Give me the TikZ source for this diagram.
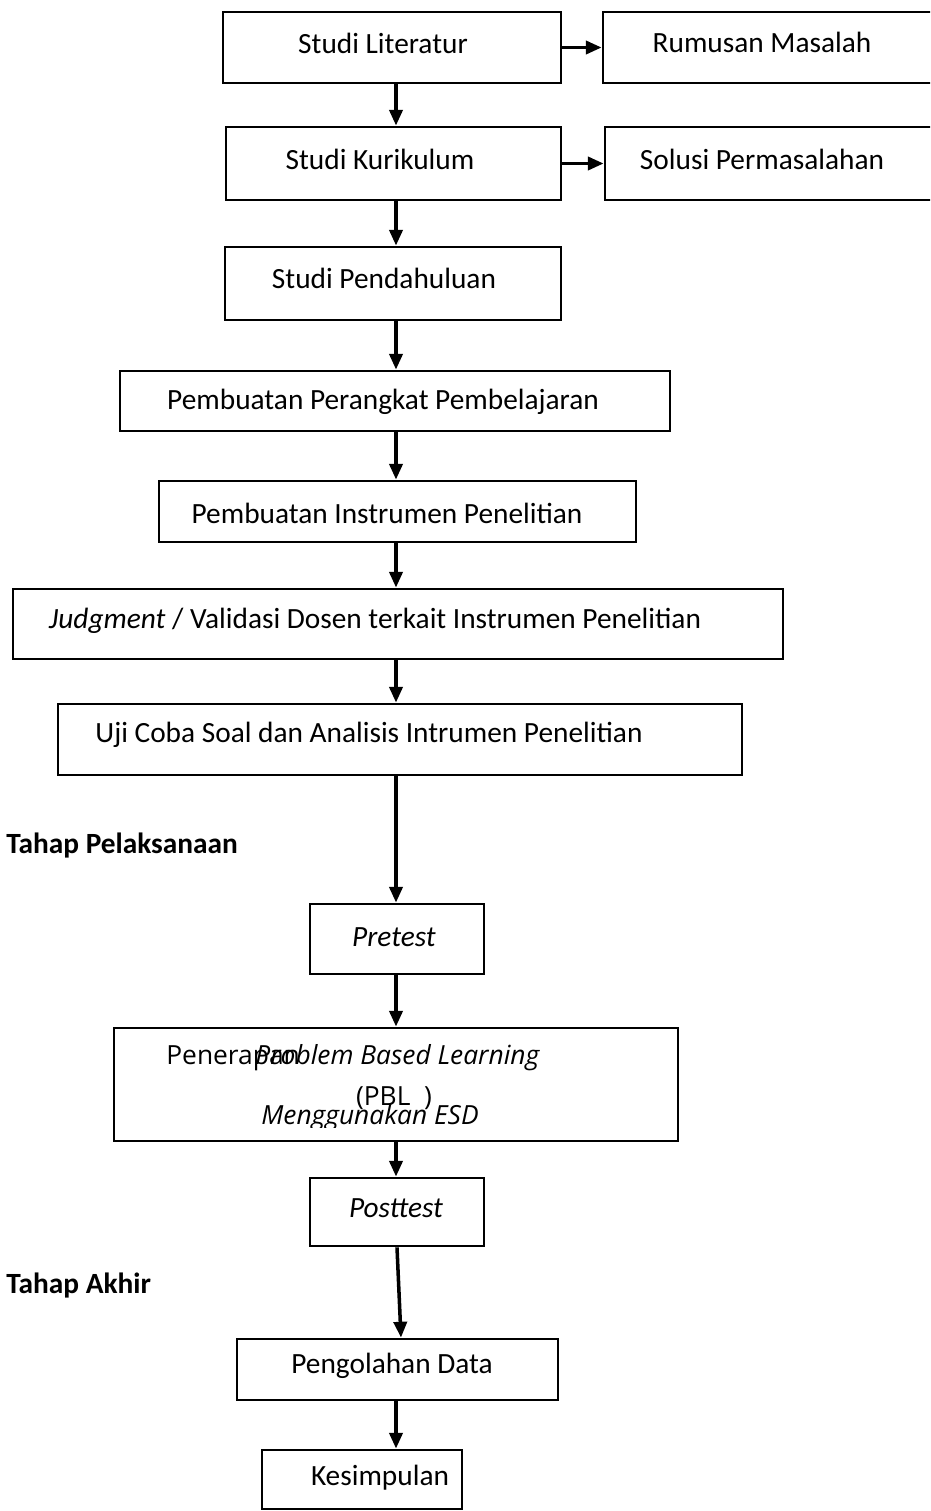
\documentclass[tikz,border=0pt]{standalone}
\usepackage{fontspec}
\setmainfont{Carlito}
\newfontfamily\pblfont{Open Sans}
\usetikzlibrary{arrows.meta, positioning}

\tikzset{
  box/.style={draw, line width=1.6pt, inner sep=0pt},
  wh/.style 2 args={minimum width=#1*0.02cm, minimum height=#2*0.02cm},
  txt/.style={inner sep=0pt, font=\fontsize{16.7}{20}\selectfont},
  pbltxt/.style={inner sep=0pt, font=\pblfont\fontsize{15}{18}\selectfont},
  arr/.style={line width=2pt, -{Triangle[length=9pt, width=7.5pt]}},
}

\begin{document}
\begin{tikzpicture}[x=0.02cm, y=-0.02cm]
    \clip (0,0) rectangle (930,1511);
    % boxes
    \node[box, wh={338}{71}] (lit) at (392,47.5) {};
    \node[box, wh={357}{71}] (rum) at (781.5,47.5) {};
    \node[box, wh={335}{73}] (kur) at (393.5,163.5) {};
    \node[box, wh={355}{73}] (sol) at (782.5,163.5) {};
    \node[box, wh={336}{73}] (pen) at (393,283.5) {};
    \node[box, wh={550}{60}] (per) at (395,401) {};
    \node[box, wh={477}{61}] (ins) at (397.5,511.5) {};
    \node[box, wh={770}{70}] (jud) at (398,624) {};
    \node[box, wh={684}{71}] (uji) at (400,739.5) {};
    \node[box, wh={174}{70}] (pre) at (397,939) {};
    \node[box, wh={564}{113}] (pbl) at (396,1084.5) {};
    \node[box, wh={174}{68}] (post) at (397,1212) {};
    \node[box, wh={321}{61}] (olah) at (397.5,1369.5) {};
    \node[box, wh={200}{59}] (kes) at (362,1479.5) {};

    % texts
    \node[txt] (litT) at (383,43) {Studi Literatur};
    \node[txt] (rumT) at (762,42) {Rumusan Masalah};
    \node[txt] (kurT) at (380,159) {Studi Kurikulum};
    \node[txt] (solT) at (762,159) {Solusi Permasalahan};
    \node[txt] (penT) at (384,278) {Studi Pendahuluan};
    \node[txt] (perT) at (383,402) {Pembuatan Perangkat Pembelajaran};
    \node[txt] (insT) at (387,513) {Pembuatan Instrumen Penelitian};
    \node[txt] (judT) at (375,621) {\textit{Judgment} / Validasi Dosen terkait Instrumen Penelitian};
    \node[txt] (ujiT) at (369,735) {Uji Coba Soal dan Analisis Intrumen Penelitian};
    \node[txt, anchor=west] (tahap1) at (6,846) {\textbf{Tahap Pelaksanaan}};
    \node[txt] (preT) at (394,937) {\textit{Pretest}};
    \node[txt] (postT) at (396,1208) {\textit{Posttest}};
    \node[txt, anchor=west] (tahap2) at (6,1285) {\textbf{Tahap Akhir}};
    \node[txt] (olahT) at (392,1366) {Pengolahan Data};
    \node[txt] (kesT) at (380,1478) {Kesimpulan};

    % PBL box text, overlapping as printed
    \node[pbltxt, anchor=west] (pblA) at (166,1058) {Penerapan};
    \node[pbltxt, anchor=west] (pblB) at (255,1058) {\itshape Problem Based Learning};
    \node[pbltxt] (pblC) at (394,1098) {(PBL\ \ )};
    \begin{scope}
        \clip (114,1028) rectangle (678,1127);
        \node[pbltxt] (pblD) at (370,1118) {\itshape Menggunakan ESD};
    \end{scope}

    % connectors
    \draw[arr] (lit.east) -- (lit.east -| rum.west);
    \draw[arr] (kur.east) -- (kur.east -| sol.west);
    \foreach \a/\b in {lit/kur, kur/pen, pen/per, per/ins, ins/jud,
                       jud/uji, uji/pre, pre/pbl, pbl/post, olah/kes} {
        \draw[arr] (\a.south -| 396,0) -- (\b.north -| 396,0);
    }
    \draw[arr] (post.south -| 397,0) -- (olah.north -| 401,0);
\end{tikzpicture}
\end{document}
